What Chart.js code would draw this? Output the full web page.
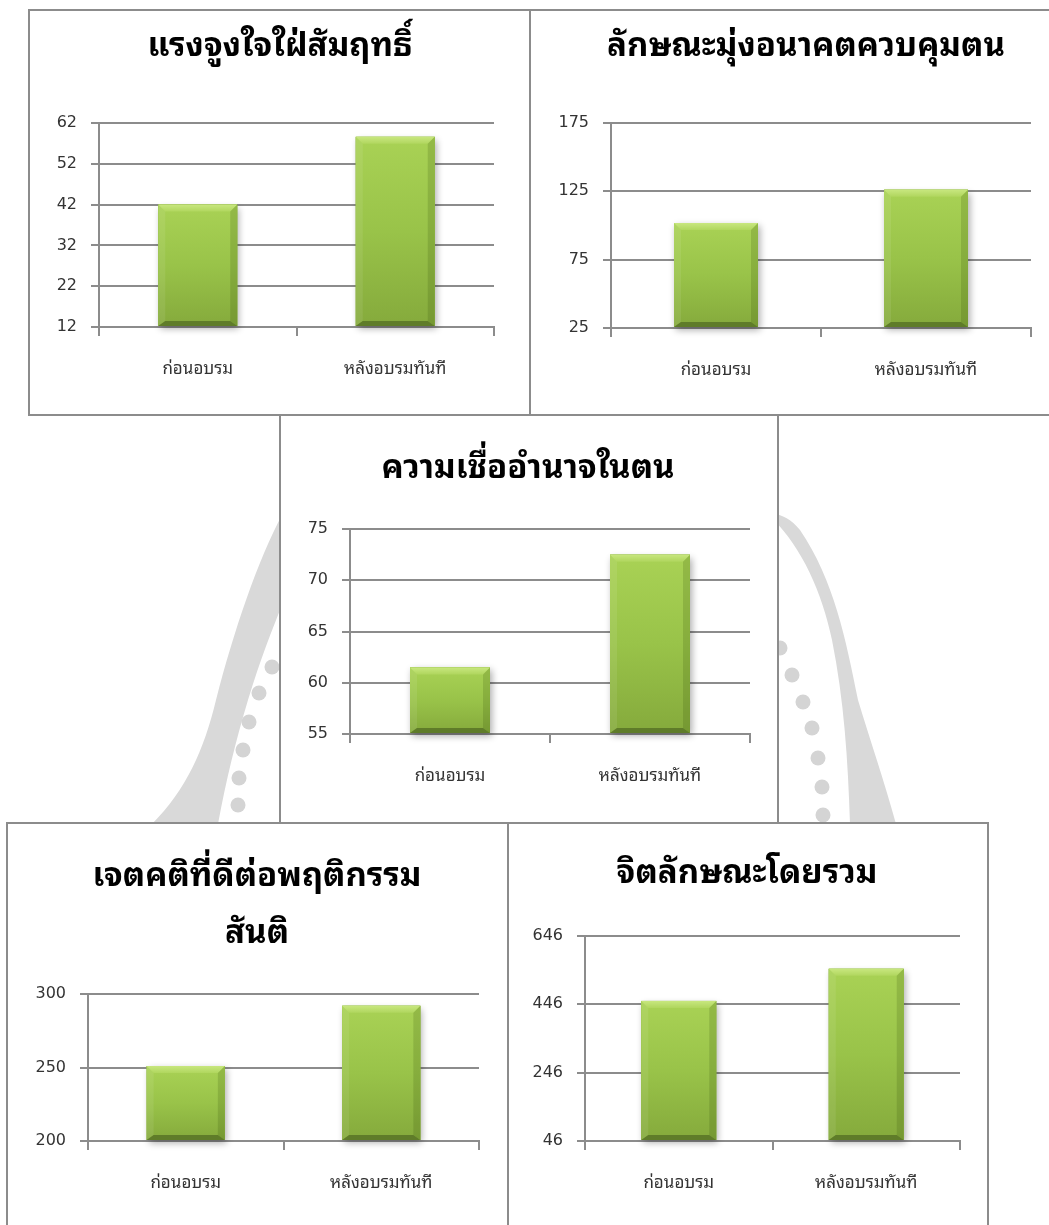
<!DOCTYPE html>
<html lang="th">
<head>
<meta charset="utf-8">
<script src="https://cdn.jsdelivr.net/npm/chart.js@4.4.1/dist/chart.umd.min.js"></script>
<style>
  html, body { margin: 0; padding: 0; background: #fff; }
  body { width: 1049px; height: 1225px; overflow: hidden; position: relative; }
  #bg { position: absolute; left: 0; top: 0; }
  .panel { position: absolute; box-sizing: border-box; border: 2px solid #8c8c8c; background: #fff; overflow: hidden; }
  .panel canvas { position: absolute; left: 0; top: 0; }
  .title { position: absolute; left: 0; white-space: nowrap; text-align: center; font-weight: bold;
           font-family: "Noto Sans Thai Looped", Loma, Garuda, Waree, "Noto Sans Thai", "Noto Sans", Tahoma, "DejaVu Sans", sans-serif;
           color: #000; line-height: 1; }
</style>
</head>
<body>
<canvas id="bg" width="1049" height="1225"></canvas>

<script>
// ---- data ----
const categories = ['ก่อนอบรม', 'หลังอบรมทันที'];

const motivationTitle = ['แรงจูงใจใฝ่สัมฤทธิ์'];
const motivationValues = [42, 58.6];
const motivationTicks = [12, 22, 32, 42, 52, 62];

const futureTitle = ['ลักษณะมุ่งอนาคตควบคุมตน'];
const futureValues = [101.8, 126.2];
const futureTicks = [25, 75, 125, 175];

const locusTitle = ['ความเชื่ออำนาจในตน'];
const locusValues = [61.5, 72.5];
const locusTicks = [55, 60, 65, 70, 75];

const peaceTitle = ['เจตคติที่ดีต่อพฤติกรรม', 'สันติ'];
const peaceValues = [251, 292];
const peaceTicks = [200, 250, 300];

const overallTitle = ['จิตลักษณะโดยรวม'];
const overallValues = [456, 550];
const overallTicks = [46, 246, 446, 646];

// ---- page layout (panel box, plot box, title centre), page pixels ----
const panels = [
  { title: motivationTitle, values: motivationValues, ticks: motivationTicks,
    box: [28, 9, 504, 407], plot: [99, 123, 494, 327], titleX: 280, titleY: 43 },
  { title: futureTitle, values: futureValues, ticks: futureTicks,
    box: [529, 9, 556, 407], plot: [611, 123, 1031, 328], titleX: 806, titleY: 43 },
  { title: locusTitle, values: locusValues, ticks: locusTicks,
    box: [279, 414, 500, 410], plot: [350, 529, 750, 734], titleX: 528, titleY: 465 },
  { title: peaceTitle, values: peaceValues, ticks: peaceTicks,
    box: [6, 822, 504, 420], plot: [88, 994, 479, 1141], titleX: 257, titleY: 873 },
  { title: overallTitle, values: overallValues, ticks: overallTicks,
    box: [507, 822, 482, 420], plot: [585, 936, 960, 1141], titleX: 747, titleY: 870 }
];

const TITLE_SIZE = 33;
const TITLE_LINE = 57;
const GRID = '#8c8c8c';
const THAI = '"Noto Sans Thai Looped", Loma, Garuda, Waree, "Noto Sans Thai", "Noto Sans", Tahoma, "DejaVu Sans", sans-serif';
const DIGITS = '"DejaVu Sans", Verdana, sans-serif';

// ---- faint background emblem behind the panels ----
(function drawEmblem() {
  const c = document.getElementById('bg').getContext('2d');
  c.fillStyle = '#d9d9d9';
  // left swoosh
  c.beginPath();
  c.moveTo(282, 515);
  c.bezierCurveTo(258, 560, 234, 630, 216, 700);
  c.bezierCurveTo(204, 750, 186, 790, 152, 824);
  c.lineTo(218, 824);
  c.bezierCurveTo(226, 780, 236, 740, 248, 700);
  c.bezierCurveTo(260, 660, 272, 630, 284, 600);
  c.closePath();
  c.fill();
  // right swoosh
  c.beginPath();
  c.moveTo(772, 518);
  c.bezierCurveTo(802, 548, 822, 592, 832, 640);
  c.bezierCurveTo(844, 700, 848, 760, 850, 824);
  c.lineTo(896, 824);
  c.bezierCurveTo(884, 780, 870, 740, 858, 700);
  c.bezierCurveTo(846, 640, 834, 580, 800, 530);
  c.bezierCurveTo(792, 520, 782, 514, 772, 514);
  c.closePath();
  c.fill();
  c.fillStyle = '#d4d4d4';
  const dots = [[272, 667], [259, 693], [249, 722], [243, 750], [239, 778], [238, 805],
                [780, 648], [792, 675], [803, 702], [812, 728], [818, 758], [822, 787], [823, 815]];
  dots.forEach(([x, y]) => { c.beginPath(); c.arc(x, y, 7.5, 0, Math.PI * 2); c.fill(); });
})();

// ---- bevelled bar look drawn on the elements Chart.js positions ----
const bevelBars = {
  id: 'bevelBars',
  beforeDatasetsDraw(chart) {
    const ctx = chart.ctx;
    chart.getDatasetMeta(0).data.forEach(el => {
      const { x, y, base, width } = el.getProps(['x', 'y', 'base', 'width'], true);
      ctx.save();
      ctx.shadowColor = 'rgba(0,0,0,0.33)';
      ctx.shadowBlur = 7;
      ctx.shadowOffsetX = 2;
      ctx.shadowOffsetY = 3;
      ctx.fillStyle = '#7a9a34';
      ctx.fillRect(x - width / 2, y, width, base - y);
      ctx.restore();
    });
  },
  afterDatasetsDraw(chart) {
    const ctx = chart.ctx;
    chart.getDatasetMeta(0).data.forEach(el => {
      const { x, y, base, width } = el.getProps(['x', 'y', 'base', 'width'], true);
      const l = x - width / 2, r = x + width / 2, t = y, b = base;
      const d = Math.min(7, (b - t) / 3);
      const db = Math.min(5, (b - t) / 4);
      ctx.save();
      const g = ctx.createLinearGradient(0, t, 0, b);
      g.addColorStop(0, '#a9d255');
      g.addColorStop(0.5, '#99c349');
      g.addColorStop(1, '#85aa3c');
      ctx.fillStyle = g;
      ctx.fillRect(l, t, width, b - t);
      const poly = (pts, fill) => {
        ctx.beginPath();
        ctx.moveTo(pts[0][0], pts[0][1]);
        for (let i = 1; i < pts.length; i++) ctx.lineTo(pts[i][0], pts[i][1]);
        ctx.closePath();
        ctx.fillStyle = fill;
        ctx.fill();
      };
      const gt = ctx.createLinearGradient(0, t, 0, t + d);
      gt.addColorStop(0, '#c8e77f');
      gt.addColorStop(1, '#b0d65e');
      poly([[l, t], [r, t], [r - d, t + d], [l + d, t + d]], gt);
      poly([[l, t], [l + d, t + d], [l + d, b - db], [l, b]], 'rgba(255,255,255,0.08)');
      poly([[r, t], [r, b], [r - d, b - db], [r - d, t + d]], 'rgba(40,60,0,0.16)');
      poly([[l, b], [r, b], [r - d, b - db], [l + d, b - db]], '#5f7c29');
      ctx.restore();
    });
  }
};

// ---- build each panel ----
panels.forEach(p => {
  const [bx, by, bw, bh] = p.box;
  const [pl, pt, pr, pb] = p.plot;
  const div = document.createElement('div');
  div.className = 'panel';
  div.style.left = bx + 'px';
  div.style.top = by + 'px';
  div.style.width = bw + 'px';
  div.style.height = bh + 'px';
  document.body.appendChild(div);

  const innerL = bx + 2, innerT = by + 2, innerW = bw - 4, innerH = bh - 4;

  const canvas = document.createElement('canvas');
  canvas.width = innerW;
  canvas.height = innerH;
  div.appendChild(canvas);

  p.title.forEach((line, k) => {
    const t = document.createElement('div');
    t.className = 'title';
    t.textContent = line;
    t.style.fontSize = TITLE_SIZE + 'px';
    t.style.width = '700px';
    t.style.left = (p.titleX - innerL - 350) + 'px';
    t.style.top = (p.titleY + k * TITLE_LINE - innerT - TITLE_SIZE / 2 - 2) + 'px';
    div.appendChild(t);
  });

  const yMin = p.ticks[0], yMax = p.ticks[p.ticks.length - 1];

  new Chart(canvas, {
    type: 'bar',
    data: {
      labels: categories,
      datasets: [{
        data: p.values,
        base: yMin,
        backgroundColor: '#98c248',
        borderWidth: 0,
        categoryPercentage: 1,
        barPercentage: 0.4
      }]
    },
    plugins: [bevelBars],
    options: {
      responsive: false,
      animation: false,
      events: [],
      layout: {
        padding: { top: pt - innerT, right: innerL + innerW - pr, left: 0, bottom: 0 }
      },
      plugins: { legend: { display: false }, tooltip: { enabled: false }, title: { display: false } },
      scales: {
        x: {
          offset: true,
          grid: { offset: true, drawOnChartArea: false, drawTicks: true, tickLength: 9, color: GRID, lineWidth: 2 },
          border: { display: true, color: GRID, width: 2 },
          ticks: { color: '#333', font: { family: THAI, size: 17 }, padding: 23, maxRotation: 0 },
          afterFit(s) { s.height = innerT + innerH - pb; }
        },
        y: {
          min: yMin, max: yMax,
          afterBuildTicks(s) { s.ticks = p.ticks.map(v => ({ value: v })); },
          grid: { color: GRID, lineWidth: 2, tickLength: 8, drawTicks: true },
          border: { display: true, color: GRID, width: 2 },
          ticks: { color: '#333', font: { family: DIGITS, size: 16 }, padding: 14 },
          afterFit(s) { s.width = pl - innerL; }
        }
      }
    }
  });
});
</script>
</body>
</html>
